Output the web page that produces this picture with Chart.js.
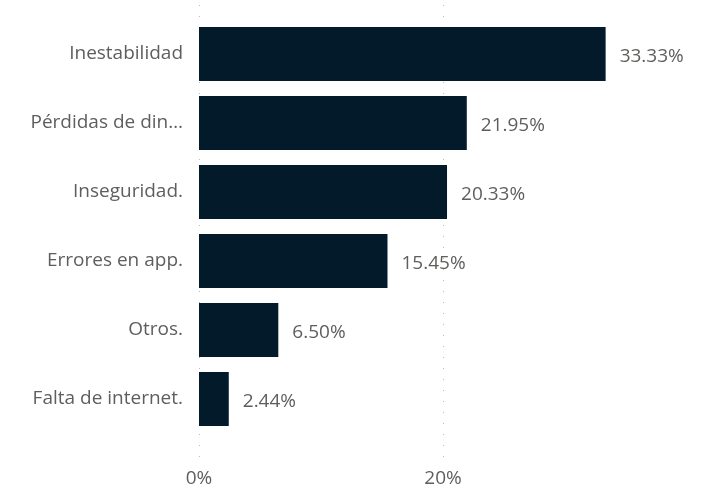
<!DOCTYPE html>
<html>
<head>
<meta charset="utf-8">
<script src="https://cdn.jsdelivr.net/npm/chart.js@4.4.0/dist/chart.umd.min.js"></script>
<style>
  html, body { margin: 0; padding: 0; background: #fff; }
  #wrap { width: 714px; height: 487px; }
</style>
</head>
<body>
<div id="wrap"><canvas id="chart" width="714" height="487"></canvas></div>
<script>
  // ========= Data =========
  const categories = [
    "Inestabilidad",
    "Pérdidas de din…",
    "Inseguridad.",
    "Errores en app.",
    "Otros.",
    "Falta de internet."
  ];
  const shares = [33.33, 21.95, 20.33, 15.45, 6.50, 2.44];
  const xTicks = [0, 20];

  const textColor = "#605e5c";
  const barColor = "#021a2a";
  const fontFamily = "'Open Sans', 'Noto Sans', sans-serif";
  const fontSize = 19;

  // dotted vertical gridlines, drawn a bit past the plot area like the original
  const dottedGrid = {
    id: "dottedGrid",
    beforeDatasetsDraw(chart) {
      const ctx = chart.ctx;
      const x = chart.scales.x;
      ctx.save();
      ctx.strokeStyle = "#bdbbb9";
      ctx.lineWidth = 1;
      ctx.setLineDash([1, 10]);
      xTicks.forEach(v => {
        const px = Math.round(x.getPixelForValue(v)) + 0.5;
        ctx.beginPath();
        ctx.moveTo(px, 5);
        ctx.lineTo(px, 457);
        ctx.stroke();
      });
      ctx.restore();
    }
  };

  // value labels to the right of each bar
  const valueLabels = {
    id: "valueLabels",
    afterDatasetsDraw(chart) {
      const ctx = chart.ctx;
      const meta = chart.getDatasetMeta(0);
      ctx.save();
      ctx.fillStyle = textColor;
      ctx.font = fontSize + "px " + fontFamily;
      ctx.textAlign = "left";
      ctx.textBaseline = "middle";
      meta.data.forEach((bar, i) => {
        ctx.fillText(shares[i].toFixed(2) + "%", bar.x + 14, bar.y + 3);
      });
      ctx.restore();
    }
  };

  new Chart(document.getElementById("chart"), {
    type: "bar",
    data: {
      labels: categories,
      datasets: [{
        data: shares,
        backgroundColor: barColor,
        categoryPercentage: 1,
        barPercentage: 54 / 69
      }]
    },
    options: {
      indexAxis: "y",
      responsive: false,
      animation: false,
      layout: { padding: { top: 19.5, right: 27, left: 0, bottom: 0 } },
      plugins: { legend: { display: false }, tooltip: { enabled: false } },
      scales: {
        x: {
          min: 0,
          max: 40,
          afterBuildTicks: s => { s.ticks = xTicks.map(v => ({ value: v })); },
          afterFit: s => { s.height = 53.5; },
          grid: { display: false, drawTicks: false },
          border: { display: false },
          ticks: {
            color: textColor,
            font: { size: fontSize, family: fontFamily },
            padding: 34,
            callback: v => v + "%"
          }
        },
        y: {
          afterFit: s => {
            s.width = 199;
            s.paddingTop = 0;
            s.paddingBottom = 0;
          },
          grid: { display: false, drawTicks: false },
          border: { display: false },
          ticks: {
            color: textColor,
            font: { size: fontSize, family: fontFamily },
            padding: 16
          }
        }
      }
    },
    plugins: [dottedGrid, valueLabels]
  });
</script>
</body>
</html>
